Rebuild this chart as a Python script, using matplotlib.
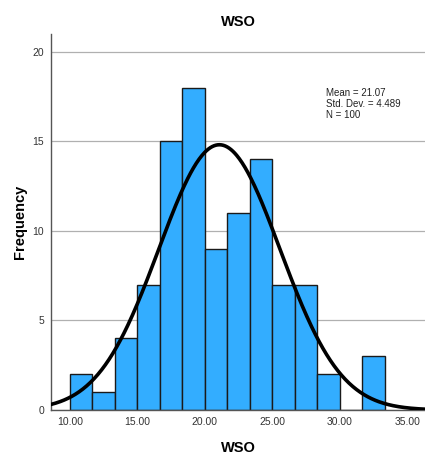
import numpy as np
import matplotlib
matplotlib.use("Agg")
import matplotlib.pyplot as plt

plt.rcParams['font.family'] = ['Liberation Sans', 'DejaVu Sans']

# Dados do histograma
bordas = [10.0, 11.667, 13.333, 15.0, 16.667, 18.333, 20.0, 21.667,
          23.333, 25.0, 26.667, 28.333, 30.0, 31.667, 33.333]
contagens = [2, 1, 4, 7, 15, 18, 9, 11, 14, 7, 7, 2, 0, 3]
media = 21.07
desvio = 4.489
n = 100
xticks = [10, 15, 20, 25, 30, 35]
yticks = [0, 5, 10, 15, 20]

fig = plt.figure(figsize=(4.25, 4.57), dpi=100)
ax = fig.add_axes([0.12, 0.1028, 0.88, 0.823])

larguras = np.diff(bordas)
ax.bar(bordas[:-1], contagens, width=larguras, align='edge',
       color='#33adff', edgecolor='#1a1a1a', linewidth=1.0, zorder=2)

# Curva normal
x = np.linspace(8.6, 36.3, 400)
largura_bin = larguras.mean()
y = n * largura_bin * np.exp(-0.5 * ((x - media) / desvio) ** 2) / (desvio * np.sqrt(2 * np.pi))
ax.plot(x, y, color='black', linewidth=2.6, zorder=3)

ax.set_xlim(8.6, 36.3)
ax.set_ylim(0, 21)
ax.set_xticks(xticks)
ax.set_xticklabels([f"{t:.2f}" for t in xticks])
ax.set_yticks(yticks)
ax.tick_params(axis='both', length=0, labelsize=7.5, colors='#333333', pad=5)
ax.yaxis.grid(True, color='#b0b0b0', linewidth=0.9, zorder=0)
ax.set_axisbelow(True)

for lado in ['top', 'right']:
    ax.spines[lado].set_visible(False)
for lado in ['left', 'bottom']:
    ax.spines[lado].set_color('#555555')
    ax.spines[lado].set_linewidth(1.0)

ax.set_title("WSO", fontsize=10.5, fontweight='bold', pad=6)
ax.set_xlabel("WSO", fontsize=10.5, fontweight='bold', labelpad=10)
ax.set_ylabel("Frequency", fontsize=10.5, fontweight='bold', labelpad=4)

ax.text(0.735, 0.856, f"Mean = {media:.2f}\nStd. Dev. = {desvio:.3f}\nN = {n}",
        transform=ax.transAxes, fontsize=7, va='top', ha='left',
        linespacing=1.1, color='#222222')

fig.savefig("out.png", dpi=100)
